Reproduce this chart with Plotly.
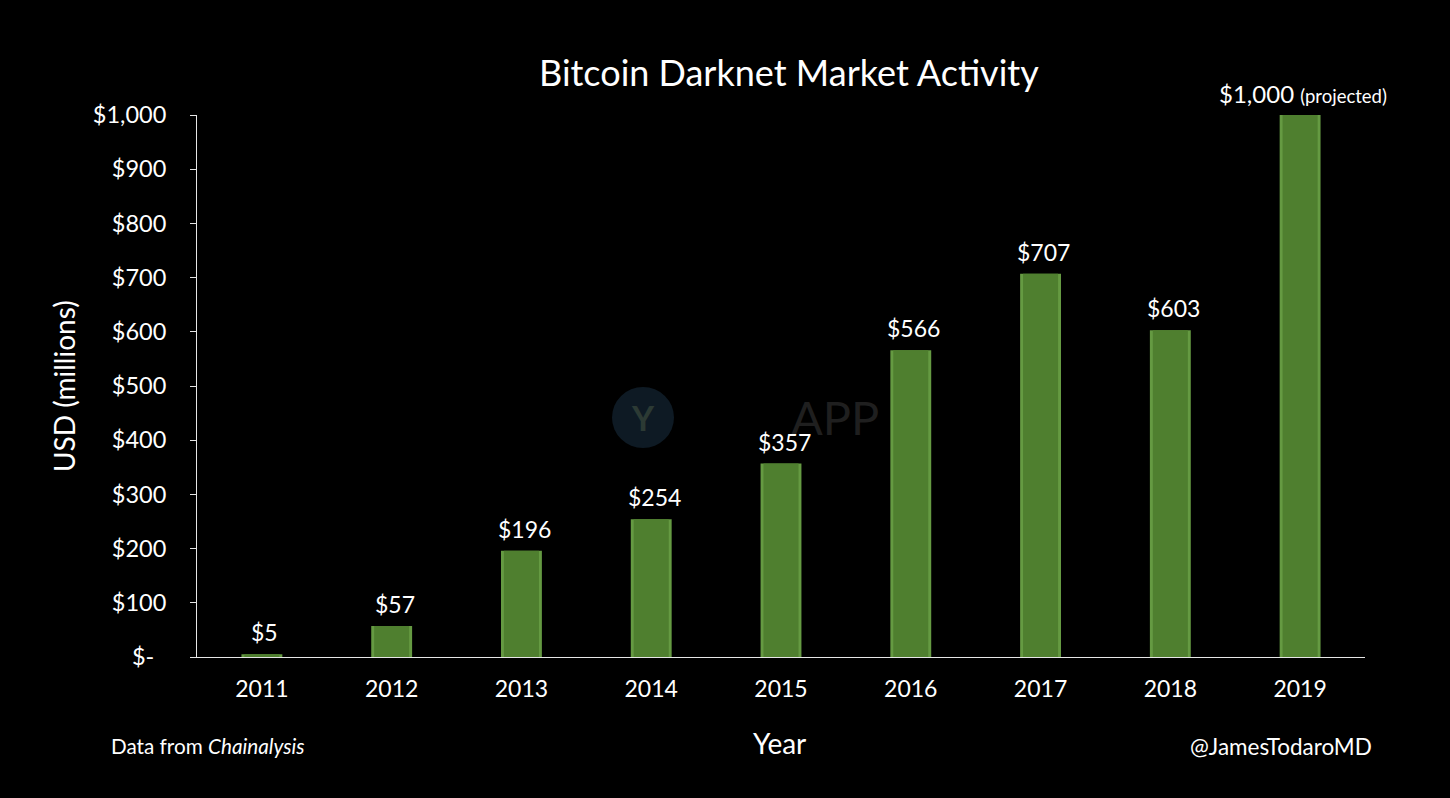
import plotly.graph_objects as go

years = ["2011", "2012", "2013", "2014", "2015", "2016", "2017", "2018", "2019"]
usd_millions = [5, 57, 196, 254, 357, 566, 707, 603, 1000]
bar_labels = ["$5", "$57", "$196", "$254", "$357", "$566", "$707", "$603", "$1,000"]
tick_values = [0, 100, 200, 300, 400, 500, 600, 700, 800, 900, 1000]
tick_labels = ["$-\u00a0\u00a0", "$100", "$200", "$300", "$400", "$500", "$600", "$700", "$800", "$900", "$1,000"]

font = "Lato"
white = "#ffffff"
W, H = 1450, 798

fig = go.Figure()

# deux barres superposées pour le bord clair (effet biseau)
fig.add_trace(go.Bar(x=years, y=usd_millions, width=0.315,
                     marker=dict(color="#659a42", line_width=0)))
fig.add_trace(go.Bar(x=years, y=usd_millions, width=0.27,
                     marker=dict(color="#4f7f2f", line_width=0)))

fig.update_layout(
    width=W,
    height=H,
    margin=dict(l=0, r=0, t=0, b=0),
    paper_bgcolor="#000000",
    plot_bgcolor="#000000",
    showlegend=False,
    barmode="overlay",
    font=dict(family=font, color=white),
    xaxis=dict(
        type="category",
        range=[-0.5, len(years) - 0.5],
        domain=[197 / W, 1365 / W],
        automargin=False,
        showgrid=False,
        showline=True,
        linecolor="#e6e6e6",
        linewidth=1,
        ticks="",
        ticklabelstandoff=11,
        tickfont=dict(size=23),
        anchor="y",
    ),
    yaxis=dict(
        domain=[1 - 657 / H, 1 - 115 / H],
        automargin=False,
        range=[0, 1000],
        tickvals=tick_values,
        ticktext=tick_labels,
        showgrid=False,
        showline=True,
        linecolor="#e6e6e6",
        linewidth=1,
        ticks="outside",
        tickcolor="#e6e6e6",
        ticklen=6,
        ticklabelstandoff=19,
        tickfont=dict(size=23.5),
        zeroline=False,
    ),
)


def note(text, x, y, size, anchor="center", color=white, angle=0):
    fig.add_annotation(text=text, xref="paper", yref="paper", x=x / W, y=1 - y / H,
                       xanchor=anchor, yanchor="middle", showarrow=False, textangle=angle,
                       font=dict(family=font, size=size, color=color))


# filigrane très pâle derrière les barres
fig.add_shape(type="circle", xref="paper", yref="paper", layer="below",
              x0=612 / W, x1=674 / W, y0=1 - 448 / H, y1=1 - 387 / H,
              fillcolor="#0e1a24", line_width=0)
note("<b>Y</b>", 643, 417, 34, color="#2c3a34")
note("APP", 835, 417, 47, color="#1f1f1f")

# titres et notes placés à la main
note("Bitcoin Darknet Market Activity", 789, 72, 36)
note("USD (millions)", 64, 386, 28, angle=-90)
note("Year", 779, 743, 28)
note("Data from <i>Chainalysis</i>", 109, 746, 20.7, anchor="left")
note("@JamesTodaroMD", 1374, 746, 22.5, anchor="right")

# étiquettes des barres, légèrement décalées à droite comme sur l'original
for i, label in enumerate(bar_labels[:-1]):
    fig.add_annotation(text=label, x=i, y=usd_millions[i], xanchor="center", yanchor="bottom",
                       xshift=3, yshift=6, showarrow=False,
                       font=dict(family=font, size=23, color=white))

# l'étiquette de 2019 porte la mention (projected)
fig.add_annotation(text=bar_labels[-1] + " <span style='font-size:18.5px'>(projected)</span>",
                   x=len(years) - 1, y=usd_millions[-1], xanchor="center", yanchor="bottom",
                   xshift=3, yshift=5, showarrow=False,
                   font=dict(family=font, size=24, color=white))

fig.write_html("out.html", config={"displayModeBar": False},
               post_script="document.body.style.margin='0';document.body.style.background='#000';")
